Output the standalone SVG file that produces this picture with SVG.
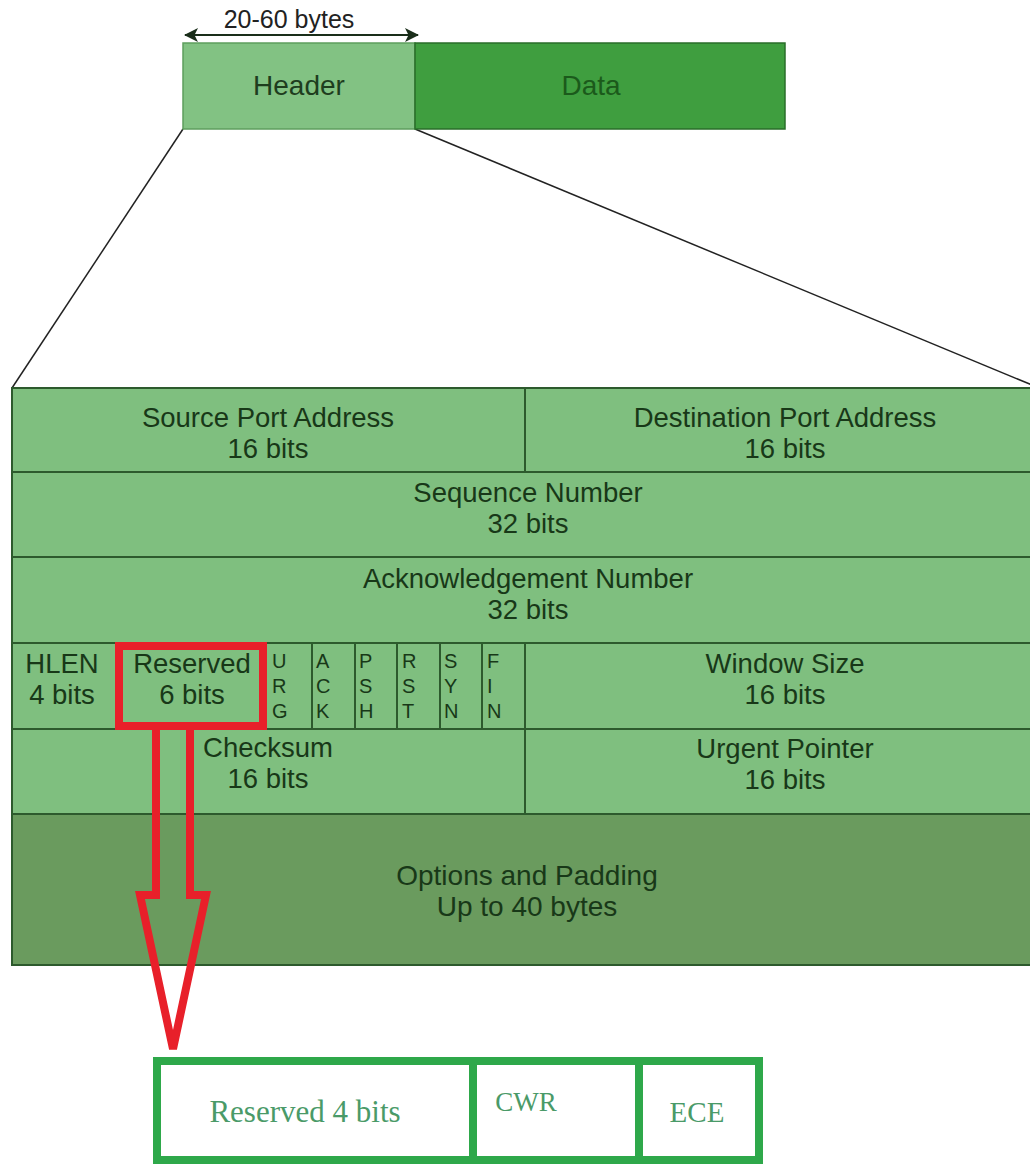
<svg xmlns="http://www.w3.org/2000/svg" width="1030" height="1167" viewBox="0 0 1030 1167">
<defs>
<style>
.t{font-family:"Liberation Sans",Arial,sans-serif;font-size:27.5px;fill:#183818;text-anchor:middle}
.f{font-family:"Liberation Sans",Arial,sans-serif;font-size:20px;fill:#183818}
.s{font-family:"Liberation Serif","Times New Roman",serif;font-size:29px;fill:#4a9a68;text-anchor:middle}
.cell{fill:#7fbf7f;stroke:#2d5a2d;stroke-width:2}
.div{stroke:#2d5a2d;stroke-width:2;fill:none}
.con{stroke:#222;stroke-width:1.5;fill:none}
</style>
<marker id="ah" viewBox="0 0 14 14" refX="13" refY="7" markerWidth="14" markerHeight="14" markerUnits="userSpaceOnUse" orient="auto-start-reverse">
<path d="M0,0 L14,7 L0,14 L3.5,7 Z" fill="#1a2e1a"/>
</marker>
</defs>
<rect width="1030" height="1167" fill="#ffffff"/>

<g id="connectors">
<line class="con" x1="183" y1="129" x2="12" y2="388"/>
<line class="con" x1="415" y1="129" x2="1032" y2="385"/>
<line x1="185" y1="35" x2="418" y2="35" stroke="#1a2e1a" stroke-width="2" marker-start="url(#ah)" marker-end="url(#ah)"/>
</g>

<g id="size-label"><text x="289" y="28" font-family="Liberation Sans, Arial, sans-serif" font-size="25" fill="#222" text-anchor="middle">20-60 bytes</text></g>

<g id="header">
<rect x="183" y="43" width="232" height="86" fill="#82c283" stroke="#5e9e5e" stroke-width="1.5"/>
<text class="t" x="299" y="95" style="fill:#1e3d1e;font-size:28px">Header</text>
</g>
<g id="data">
<rect x="415" y="43" width="370" height="86" fill="#3f9e3f" stroke="#2a6e2a" stroke-width="1.5"/>
<text class="t" x="591" y="95" style="fill:#1b5a1b;font-size:28px">Data</text>
</g>

<g id="row1">
<rect class="cell" x="12" y="388" width="1030" height="84"/>
<line class="div" x1="525" y1="388" x2="525" y2="472"/>
<text class="t" x="268" y="427">Source Port Address</text>
<text class="t" x="268" y="458">16 bits</text>
<text class="t" x="785" y="427">Destination Port Address</text>
<text class="t" x="785" y="458">16 bits</text>
</g>
<g id="row2">
<rect class="cell" x="12" y="472" width="1030" height="85"/>
<text class="t" x="528" y="502">Sequence Number</text>
<text class="t" x="528" y="533">32 bits</text>
</g>
<g id="row3">
<rect class="cell" x="12" y="557" width="1030" height="86"/>
<text class="t" x="528" y="588">Acknowledgement Number</text>
<text class="t" x="528" y="619">32 bits</text>
</g>
<g id="row4">
<rect class="cell" x="12" y="643" width="1030" height="86"/>
<line class="div" x1="312" y1="643" x2="312" y2="729"/>
<line class="div" x1="355" y1="643" x2="355" y2="729"/>
<line class="div" x1="397" y1="643" x2="397" y2="729"/>
<line class="div" x1="440" y1="643" x2="440" y2="729"/>
<line class="div" x1="482" y1="643" x2="482" y2="729"/>
<line class="div" x1="525" y1="643" x2="525" y2="729"/>
<text class="t" x="62" y="673">HLEN</text>
<text class="t" x="62" y="704">4 bits</text>
<text class="t" x="192" y="673">Reserved</text>
<text class="t" x="192" y="704">6 bits</text>
<text class="f" x="272" y="668">U</text><text class="f" x="272" y="693">R</text><text class="f" x="272" y="718">G</text>
<text class="f" x="316" y="668">A</text><text class="f" x="316" y="693">C</text><text class="f" x="316" y="718">K</text>
<text class="f" x="359" y="668">P</text><text class="f" x="359" y="693">S</text><text class="f" x="359" y="718">H</text>
<text class="f" x="402" y="668">R</text><text class="f" x="402" y="693">S</text><text class="f" x="402" y="718">T</text>
<text class="f" x="444" y="668">S</text><text class="f" x="444" y="693">Y</text><text class="f" x="444" y="718">N</text>
<text class="f" x="487" y="668">F</text><text class="f" x="487" y="693">I</text><text class="f" x="487" y="718">N</text>
<text class="t" x="785" y="673">Window Size</text>
<text class="t" x="785" y="704">16 bits</text>
</g>
<g id="row5">
<rect class="cell" x="12" y="729" width="1030" height="85"/>
<line class="div" x1="525" y1="729" x2="525" y2="814"/>
<text class="t" x="268" y="757">Checksum</text>
<text class="t" x="268" y="788">16 bits</text>
<text class="t" x="785" y="758">Urgent Pointer</text>
<text class="t" x="785" y="789">16 bits</text>
</g>
<g id="row6">
<rect x="12" y="814" width="1030" height="151" fill="#6a9b5e" stroke="#2d5a2d" stroke-width="2"/>
<text class="t" x="527" y="885" style="font-size:28px">Options and Padding</text>
<text class="t" x="527" y="916" style="font-size:28px">Up to 40 bytes</text>
</g>

<g id="highlight">
<rect x="119" y="646" width="144" height="80" fill="none" stroke="#e8202a" stroke-width="8"/>
<path d="M156,730 V895 H140 L173,1049 L206,895 H190 V730" fill="none" stroke="#e8202a" stroke-width="8" stroke-linejoin="miter"/>
</g>

<g id="reserved-detail">
<rect x="157" y="1061" width="602" height="99" fill="#ffffff" stroke="#2ea84a" stroke-width="8"/>
<line x1="473" y1="1061" x2="473" y2="1160" stroke="#2ea84a" stroke-width="8"/>
<line x1="639" y1="1061" x2="639" y2="1160" stroke="#2ea84a" stroke-width="8"/>
<text class="s" x="305" y="1122" style="font-size:31px">Reserved 4 bits</text>
<text class="s" x="526" y="1111" style="font-size:27px">CWR</text>
<text class="s" x="697" y="1122">ECE</text>
</g>
</svg>
